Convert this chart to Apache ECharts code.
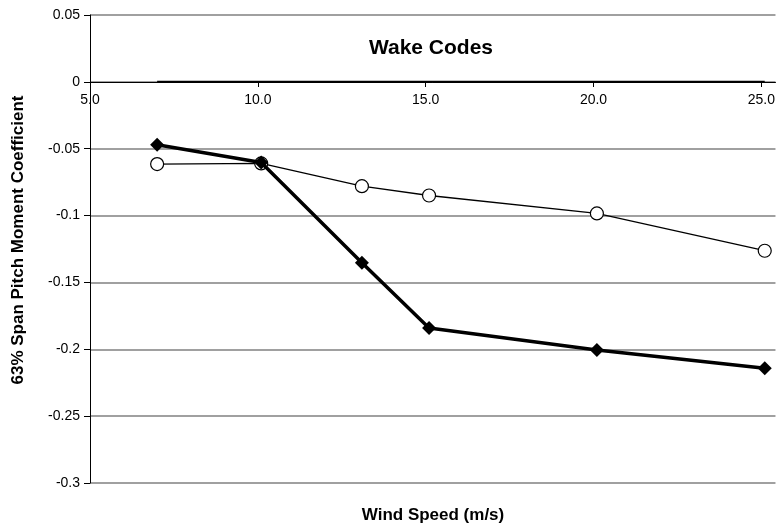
<!DOCTYPE html>
<html>
<head>
<meta charset="utf-8">
<script src="https://cdn.jsdelivr.net/npm/echarts@6/dist/echarts.min.js"></script>
<style>html,body{margin:0;padding:0;background:#fff}#c{width:778px;height:532px}</style>
</head>
<body>
<div id="c"></div>
<script>
var windSpeed = [7.0, 10.1, 13.1, 15.1, 20.1, 25.1];
var openCircleSeries = [-0.0615, -0.061, -0.078, -0.085, -0.0984, -0.1263];
var diamondSeries = [-0.047, -0.0603, -0.1353, -0.184, -0.2005, -0.2142];
var zeroSeries = [0, 0, 0, 0, 0, 0];
var xTickValues = [5, 10, 15, 20, 25];

function pairs(xs, ys) { return xs.map(function (x, i) { return [x, ys[i]]; }); }

var FONT = '"Liberation Sans", Arial, sans-serif';
var chart = echarts.init(document.getElementById('c'), null, { renderer: 'canvas' });
chart.setOption({
  animation: false,
  backgroundColor: '#fff',
  title: [
    { text: 'Wake Codes', left: 426, top: 33, textAlign: 'center',
      textStyle: { fontFamily: FONT, fontSize: 21, fontWeight: 'bold', color: '#000' } },
    { text: 'Wind Speed (m/s)', left: 428, top: 502, textAlign: 'center',
      textStyle: { fontFamily: FONT, fontSize: 17, fontWeight: 'bold', color: '#000' } }
  ],
  graphic: [
    { type: 'text', x: 18, y: 240, rotation: Math.PI / 2,
      style: { text: '63% Span Pitch Moment Coefficient', font: 'bold 17px "Liberation Sans", Arial, sans-serif',
        fill: '#000', align: 'center', verticalAlign: 'middle' } }
  ],
  grid: { left: 90, right: 1, top: 15, bottom: 49, containLabel: false },
  xAxis: {
    type: 'value', min: 5, max: 25.42, position: 'top', offset: -67,
    axisLine: { onZero: false, lineStyle: { color: '#000', width: 1 } },
    axisTick: { show: true, inside: true, length: 5, customValues: xTickValues, lineStyle: { color: '#000' } },
    axisLabel: { inside: true, customValues: xTickValues, formatter: function (v) { return v.toFixed(1); },
      fontFamily: FONT, fontSize: 14, color: '#000', margin: 11 },
    splitLine: { show: false }
  },
  yAxis: {
    type: 'value', min: -0.3, max: 0.05, interval: 0.05,
    axisLine: { show: true, onZero: false, lineStyle: { color: '#000', width: 1 } },
    axisTick: { show: true, inside: false, length: 6, lineStyle: { color: '#000' } },
    axisLabel: { fontFamily: FONT, fontSize: 14, color: '#000', margin: 10,
      formatter: function (v) { var r = Math.round(v * 100) / 100; return String(r); } },
    splitLine: { show: true, lineStyle: { color: '#808080', width: 1.5 } }
  },
  series: [
    { name: 'zero', type: 'line', data: pairs(windSpeed, zeroSeries), symbol: 'none',
      lineStyle: { color: '#000', width: 2 }, silent: true, z: 1 },
    { name: 'circles', type: 'line', data: pairs(windSpeed, openCircleSeries), symbol: 'circle', symbolSize: 13,
      itemStyle: { color: '#fff', borderColor: '#000', borderWidth: 1.2 },
      lineStyle: { color: '#000', width: 1.3 }, z: 2 },
    { name: 'diamonds', type: 'line', data: pairs(windSpeed, diamondSeries), symbol: 'diamond', symbolSize: 14,
      itemStyle: { color: '#000', borderColor: '#000', borderWidth: 0 },
      lineStyle: { color: '#000', width: 3.5 }, z: 3 }
  ]
});
</script>
</body>
</html>
